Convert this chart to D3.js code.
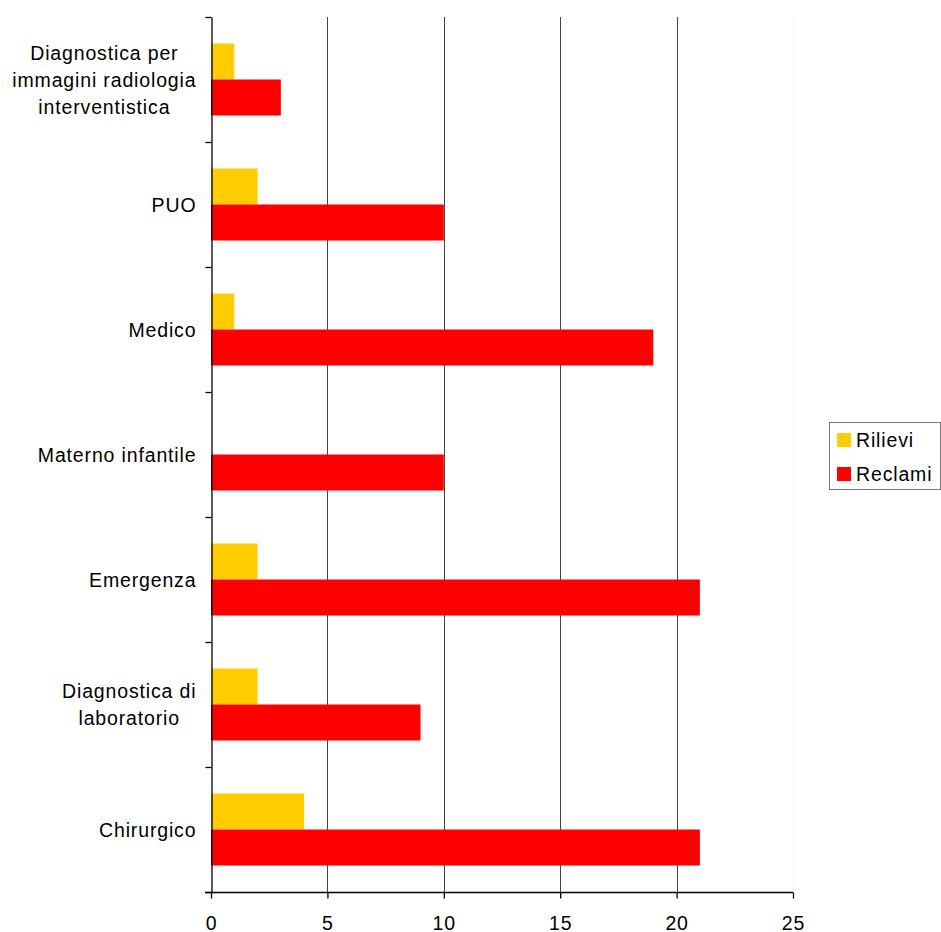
<!DOCTYPE html>
<html>
<head>
<meta charset="utf-8">
<script src="https://cdn.jsdelivr.net/npm/d3@7"></script>
<style>
  html, body { margin: 0; padding: 0; background: #fff; }
  svg text { font-family: "Liberation Sans", Arial, Helvetica, sans-serif; fill: #000; }
</style>
</head>
<body>
<svg id="chart" width="941" height="932"></svg>
<script>
// Categories listed top to bottom
const categories = [
  ["Diagnostica per", "immagini radiologia", "interventistica"],
  ["PUO"],
  ["Medico"],
  ["Materno infantile"],
  ["Emergenza"],
  ["Diagnostica di", "laboratorio"],
  ["Chirurgico"]
];
const seriesNames = ["Rilievi", "Reclami"];
const rilievi = [1, 2, 1, 0, 2, 2, 4];
const reclami = [3, 10, 19, 10, 21, 9, 21];
const xTicks = [0, 5, 10, 15, 20, 25];
const colors = ["#FFCC00", "#FF0000"];

const svg = d3.select("#chart");
const plotL = 211, plotR = 793, plotT = 17, plotB = 892;
const fontSize = 19.5, spacing = 0.85;

const x = d3.scaleLinear().domain([0, 25]).range([plotL, plotR]);
const keys = categories.map((c, i) => i);
const y = d3.scaleBand().domain(keys).range([plotT, plotB])
  .paddingInner(0.424).paddingOuter(0.212);
const ySub = d3.scaleBand().domain(seriesNames).range([0, y.bandwidth()]);

const rows = keys.map(i => ({ i, values: [rilievi[i], reclami[i]] }));

// vertical gridlines
svg.append("g").selectAll("line").data(xTicks.filter(t => t > 0))
  .join("line")
  .attr("x1", d => Math.round(x(d)) + 0.5).attr("x2", d => Math.round(x(d)) + 0.5)
  .attr("y1", plotT).attr("y2", plotB)
  .attr("stroke", d => d === 25 ? "#f2f2f2" : "#444")
  .attr("stroke-width", 1);

// bars
const groups = svg.append("g").selectAll("g").data(rows).join("g")
  .attr("transform", d => `translate(0,${y(d.i)})`);
groups.selectAll("rect")
  .data(d => d.values.map((v, k) => ({ v, k })))
  .join("rect")
  .attr("x", x(0))
  .attr("y", d => ySub(seriesNames[d.k]))
  .attr("width", d => x(d.v) - x(0))
  .attr("height", ySub.bandwidth())
  .attr("fill", d => colors[d.k]);

// category axis with ticks on band boundaries
const yEdge = d3.scaleLinear().domain([0, categories.length]).range([plotT, plotB]);
const yAxis = svg.append("g").attr("transform", `translate(${plotL + 0.5},0)`)
  .call(d3.axisLeft(yEdge).tickValues(d3.range(0, categories.length + 1))
    .tickFormat("").tickSize(6).tickSizeOuter(0));
yAxis.select(".domain").attr("stroke", "#000").attr("stroke-width", 1.3);
yAxis.selectAll(".tick line").attr("stroke", "#000").attr("stroke-width", 1.3);

// value axis
const xAxis = svg.append("g").attr("transform", `translate(0,${plotB + 0.5})`)
  .call(d3.axisBottom(x).tickValues(xTicks).tickSize(6).tickSizeOuter(0)
    .tickFormat(d3.format("d")));
xAxis.select(".domain").attr("d", `M${plotL - 6},0H${plotR}`)
  .attr("stroke", "#000").attr("stroke-width", 1.3);
xAxis.selectAll(".tick line").attr("stroke", "#000").attr("stroke-width", 1.3);
xAxis.selectAll(".tick text")
  .attr("y", 0).attr("dy", null)
  .attr("transform", "translate(0,37)")
  .style("font-size", fontSize + "px")
  .style("letter-spacing", spacing + "px")
  .style("font-family", '"Liberation Sans", Arial, sans-serif')
  .attr("fill", "#000");

// category labels: block right-aligned to the axis, lines centred within it
const labelRight = 196, lineH = 27;
const labels = svg.append("g");
rows.forEach(r => {
  const lines = categories[r.i];
  const cy = y(r.i) + y.bandwidth() / 2;
  const g = labels.append("g");
  const texts = g.selectAll("text").data(lines).join("text")
    .attr("text-anchor", "middle")
    .style("font-size", fontSize + "px")
    .style("letter-spacing", spacing + "px")
    .text(d => d);
  let maxW = 0;
  texts.each(function () { maxW = Math.max(maxW, this.getComputedTextLength()); });
  const cx = labelRight - maxW / 2 + spacing / 2;
  texts.attr("x", cx)
    .attr("y", (d, k) => cy + (k - (lines.length - 1) / 2) * lineH)
    .attr("dy", "0.36em");
});

// legend
const legend = svg.append("g");
legend.append("rect").attr("x", 829.5).attr("y", 422.5).attr("width", 111).attr("height", 67)
  .attr("fill", "#fff").attr("stroke", "#777").attr("stroke-width", 1);
seriesNames.forEach((name, k) => {
  const ly = 433 + k * 34;
  legend.append("rect").attr("x", 837).attr("y", ly).attr("width", 14).attr("height", 14)
    .attr("fill", colors[k]);
  legend.append("text").attr("x", 856).attr("y", ly + 7).attr("dy", "0.36em")
    .style("font-size", fontSize + "px")
    .style("letter-spacing", spacing + "px")
    .text(name);
});
</script>
</body>
</html>
